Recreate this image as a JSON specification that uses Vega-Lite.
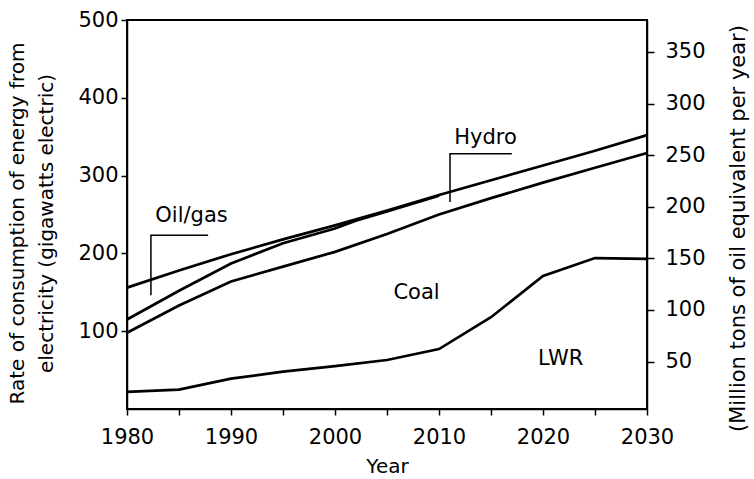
{
  "$schema": "https://vega.github.io/schema/vega-lite/v6.json",
  "width": 520,
  "height": 389,
  "autosize": {"type": "none"},
  "padding": {"left": 127, "top": 20, "right": 107, "bottom": 70},
  "background": "white",
  "config": {
    "view": {"stroke": "black", "strokeWidth": 2},
    "font": "DejaVu Sans",
    "axis": {
      "grid": false,
      "domainColor": "black",
      "domainWidth": 1.5,
      "tickColor": "black",
      "tickWidth": 1.5,
      "labelColor": "black",
      "titleColor": "black",
      "labelFont": "DejaVu Sans",
      "titleFont": "DejaVu Sans",
      "labelFontSize": 21,
      "titleFontSize": 21,
      "titleFontWeight": "normal"
    }
  },
  "datasets": {
    "lines": [
      {"series": "total", "year": 1980, "value": 156},
      {"series": "total", "year": 1985, "value": 178},
      {"series": "total", "year": 1990, "value": 199},
      {"series": "total", "year": 1995, "value": 218},
      {"series": "total", "year": 2000, "value": 236},
      {"series": "total", "year": 2005, "value": 255},
      {"series": "total", "year": 2010, "value": 275},
      {"series": "total", "year": 2015, "value": 294},
      {"series": "total", "year": 2020, "value": 313},
      {"series": "total", "year": 2025, "value": 332},
      {"series": "total", "year": 2030, "value": 352},
      {"series": "hydro", "year": 1980, "value": 115},
      {"series": "hydro", "year": 1985, "value": 152},
      {"series": "hydro", "year": 1990, "value": 187},
      {"series": "hydro", "year": 1995, "value": 213},
      {"series": "hydro", "year": 2000, "value": 232},
      {"series": "hydro", "year": 2002, "value": 242},
      {"series": "hydro", "year": 2005, "value": 254},
      {"series": "hydro", "year": 2010, "value": 274},
      {"series": "coal", "year": 1980, "value": 98},
      {"series": "coal", "year": 1985, "value": 133},
      {"series": "coal", "year": 1990, "value": 164},
      {"series": "coal", "year": 1995, "value": 183},
      {"series": "coal", "year": 2000, "value": 202},
      {"series": "coal", "year": 2005, "value": 225},
      {"series": "coal", "year": 2010, "value": 250},
      {"series": "coal", "year": 2015, "value": 271},
      {"series": "coal", "year": 2020, "value": 291},
      {"series": "coal", "year": 2025, "value": 310},
      {"series": "coal", "year": 2030, "value": 329},
      {"series": "lwr", "year": 1980, "value": 22},
      {"series": "lwr", "year": 1985, "value": 25},
      {"series": "lwr", "year": 1990, "value": 39},
      {"series": "lwr", "year": 1995, "value": 48},
      {"series": "lwr", "year": 2000, "value": 55},
      {"series": "lwr", "year": 2005, "value": 63},
      {"series": "lwr", "year": 2010, "value": 77},
      {"series": "lwr", "year": 2015, "value": 118},
      {"series": "lwr", "year": 2020, "value": 171},
      {"series": "lwr", "year": 2025, "value": 194},
      {"series": "lwr", "year": 2030, "value": 193}
    ],
    "leaders": [
      {"id": "oil", "ord": 1, "year": 1987.8, "value": 223.4},
      {"id": "oil", "ord": 2, "year": 1982.3, "value": 223.4},
      {"id": "oil", "ord": 3, "year": 1982.3, "value": 146.3},
      {"id": "hydro", "ord": 1, "year": 2017.0, "value": 328.2},
      {"id": "hydro", "ord": 2, "year": 2011.06, "value": 328.2},
      {"id": "hydro", "ord": 3, "year": 2011.06, "value": 266.1}
    ],
    "labels": [
      {"label": "Oil/gas", "year": 1986.2, "value": 240.4},
      {"label": "Hydro", "year": 2014.47, "value": 341},
      {"label": "Coal", "year": 2007.84, "value": 142},
      {"label": "LWR", "year": 2021.7, "value": 56.5}
    ],
    "rightTicks": [
      {"mtoe": 50}, {"mtoe": 100}, {"mtoe": 150}, {"mtoe": 200},
      {"mtoe": 250}, {"mtoe": 300}, {"mtoe": 350}
    ]
  },
  "layer": [
    {
      "encoding": {
        "x": {
          "field": "year",
          "type": "quantitative",
          "scale": {"domain": [1980, 2030], "nice": false, "zero": false},
          "axis": {
            "title": "Year",
            "titleFontSize": 20,
            "values": [1980, 1985, 1990, 1995, 2000, 2005, 2010, 2015, 2020, 2025, 2030],
            "labelExpr": "datum.value % 10 == 0 ? datum.value : ''",
            "format": "d",
            "tickSize": 6,
            "labelPadding": 11,
            "titlePadding": 9,
            "labelFlush": false,
            "labelOverlap": false
          }
        },
        "y": {
          "field": "value",
          "type": "quantitative",
          "scale": {"domain": [0, 500], "nice": false},
          "axis": {
            "title": ["Rate of consumption of energy from", "electricity (gigawatts electric)"],
            "titleFontSize": 20,
            "titleY": 203,
            "values": [100, 200, 300, 400, 500],
            "tickSize": 6,
            "labelPadding": 3,
            "titlePadding": 21,
            "titleLineHeight": 29
          }
        }
      },
      "layer": [
        {
          "data": {"name": "lines"},
          "mark": {"type": "line", "color": "black", "strokeWidth": 2.7, "interpolate": "linear"},
          "encoding": {"detail": {"field": "series"}}
        },
        {
          "data": {"name": "leaders"},
          "mark": {"type": "line", "color": "black", "strokeWidth": 1.5},
          "encoding": {
            "detail": {"field": "id"},
            "order": {"field": "ord", "type": "quantitative"}
          }
        },
        {
          "data": {"name": "labels"},
          "mark": {"type": "text", "font": "DejaVu Sans", "fontSize": 21, "color": "black", "baseline": "alphabetic", "align": "center"},
          "encoding": {"text": {"field": "label"}}
        }
      ]
    },
    {
      "data": {"name": "rightTicks"},
      "mark": {"type": "point", "opacity": 0},
      "encoding": {
        "y": {
          "field": "mtoe",
          "type": "quantitative",
          "scale": {"domain": [4, 381], "nice": false, "zero": false},
          "axis": {
            "orient": "right",
            "title": "(Million tons of oil equivalent per year)",
            "titleAngle": 270,
            "titleBaseline": "top",
            "titleY": 208,
            "values": [50, 100, 150, 200, 250, 300, 350],
            "tickSize": 7,
            "labelPadding": 11,
            "titlePadding": 22,
            "domain": true
          }
        }
      }
    }
  ],
  "resolve": {"scale": {"y": "independent"}}
}
